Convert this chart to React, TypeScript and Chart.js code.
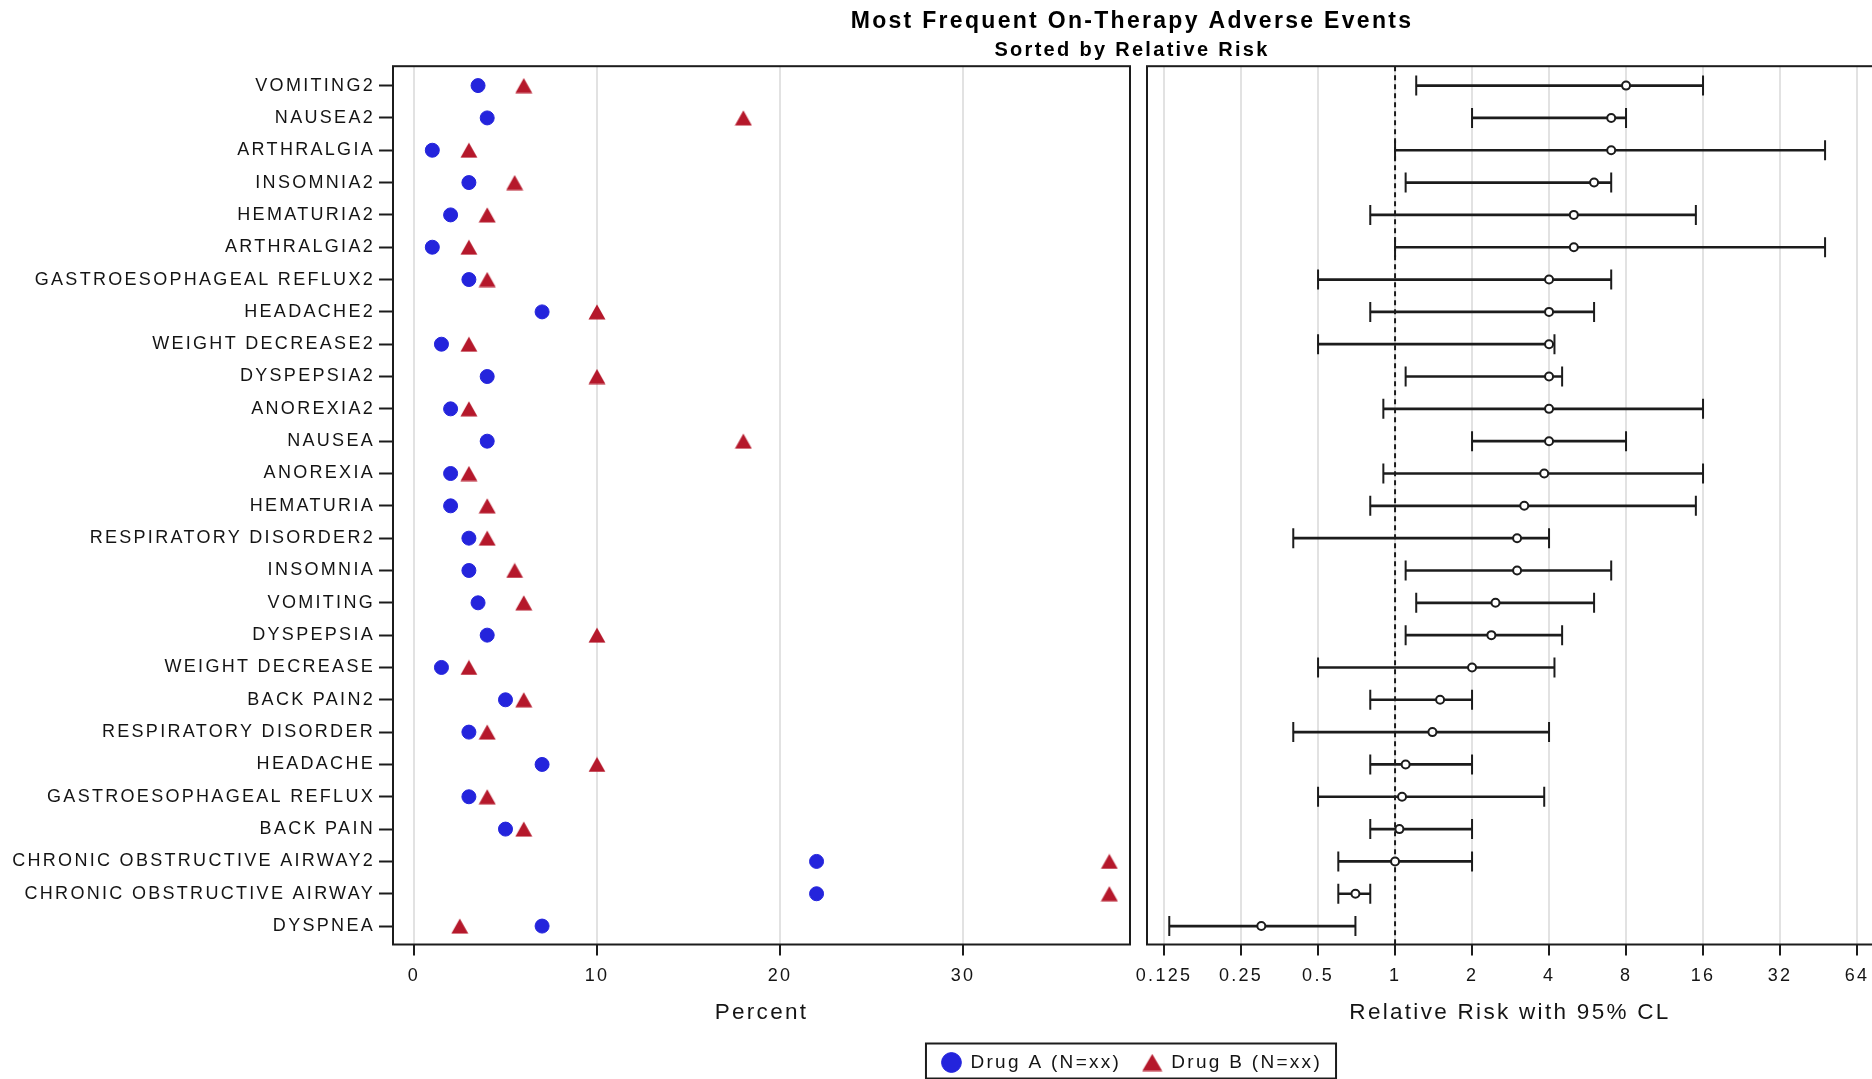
import { useEffect, useRef } from 'react';
import { Chart, registerables } from 'chart.js';

Chart.register(...registerables);

// Adverse events, top to bottom
const events = [
  'VOMITING2', 'NAUSEA2', 'ARTHRALGIA', 'INSOMNIA2', 'HEMATURIA2', 'ARTHRALGIA2',
  'GASTROESOPHAGEAL REFLUX2', 'HEADACHE2', 'WEIGHT DECREASE2', 'DYSPEPSIA2', 'ANOREXIA2',
  'NAUSEA', 'ANOREXIA', 'HEMATURIA', 'RESPIRATORY DISORDER2', 'INSOMNIA', 'VOMITING',
  'DYSPEPSIA', 'WEIGHT DECREASE', 'BACK PAIN2', 'RESPIRATORY DISORDER', 'HEADACHE',
  'GASTROESOPHAGEAL REFLUX', 'BACK PAIN', 'CHRONIC OBSTRUCTIVE AIRWAY2',
  'CHRONIC OBSTRUCTIVE AIRWAY', 'DYSPNEA',
];

// Percent of patients with each event
const drugA = [3.5, 4, 1, 3, 2, 1, 3, 7, 1.5, 4, 2, 4, 2, 2, 3, 3, 3.5, 4, 1.5, 5, 3, 7, 3, 5, 22, 22, 7];
const drugB = [6, 18, 3, 5.5, 4, 3, 4, 10, 3, 10, 3, 18, 3, 4, 4, 5.5, 6, 10, 3, 6, 4, 10, 4, 6, 38, 38, 2.5];

// Relative risk with 95% confidence limits
const relRisk = [8, 7, 7, 6, 5, 5, 4, 4, 4, 4, 4, 4, 3.83, 3.2, 3, 3, 2.47, 2.38, 2, 1.5, 1.4, 1.1, 1.065, 1.04, 1, 0.7, 0.3];
const lowerCL = [1.21, 2, 1, 1.1, 0.8, 1, 0.5, 0.8, 0.5, 1.1, 0.9, 2, 0.9, 0.8, 0.4, 1.1, 1.21, 1.1, 0.5, 0.8, 0.4, 0.8, 0.5, 0.8, 0.6, 0.6, 0.131];
const upperCL = [16, 8, 48, 7, 15, 48, 7, 6, 4.2, 4.5, 16, 8, 16, 15, 4, 7, 6, 4.5, 4.2, 2, 4, 2, 3.83, 2, 2, 0.8, 0.7];

const percentTicks = [0, 10, 20, 30];
const riskTicks = [0.125, 0.25, 0.5, 1, 2, 4, 8, 16, 32, 64];

const FONT = 'Liberation Sans, Arial, Helvetica, sans-serif';
const INK = '#1c1c1c';
const TEXT = '#141414';
const GRID = '#e2e2e2';
const BLUE = '#2424dc';
const RED = '#b5182b';

const ROW_MIN = -0.6;
const ROW_MAX = 26.57;

Chart.defaults.font.family = FONT;

// Filled triangle centred on its bounding box, used as the Drug B marker
function makeTriangle(w: number, h: number, color: string) {
  const c = document.createElement('canvas');
  c.width = w;
  c.height = h;
  const g = c.getContext('2d') as CanvasRenderingContext2D;
  g.fillStyle = color;
  g.beginPath();
  g.moveTo(w / 2, 0.5);
  g.lineTo(w - 0.5, h - 0.5);
  g.lineTo(0.5, h - 0.5);
  g.closePath();
  g.fill();
  return c;
}

// Text in this graph is set with a little tracking
const letterSpacing = {
  id: 'letterSpacing',
  beforeLayout(chart: any) {
    chart.ctx.letterSpacing = '2.3px';
  },
  beforeDraw(chart: any) {
    chart.ctx.letterSpacing = '2.3px';
  },
};

// Box around each panel's plot area
const panelFrame = {
  id: 'panelFrame',
  afterDraw(chart: any) {
    const { ctx, chartArea: a } = chart;
    ctx.save();
    ctx.strokeStyle = INK;
    ctx.lineWidth = 2;
    ctx.strokeRect(a.left, a.top, a.right - a.left, a.bottom - a.top);
    ctx.restore();
  },
};

// Border around the legend entries
const legendFrame = {
  id: 'legendFrame',
  afterDraw(chart: any) {
    const boxes = chart.legend && chart.legend.legendHitBoxes;
    if (!boxes || !boxes.length) return;
    const first = boxes[0];
    const last = boxes[boxes.length - 1];
    const cy = first.top + first.height / 2;
    const x0 = first.left - 16;
    const x1 = last.left + last.width + 14;
    const { ctx } = chart;
    ctx.save();
    ctx.strokeStyle = INK;
    ctx.lineWidth = 2;
    ctx.strokeRect(x0, cy - 19, x1 - x0, 35);
    ctx.restore();
  },
};

const tickFont = { family: FONT, size: 18 };
const axisTitleFont = { family: FONT, size: 22.5 };

const bottomAxisCommon = {
  position: 'bottom',
  bounds: 'data',
  afterFit: (s: any) => {
    s.height = 87;
  },
  ticks: { font: tickFont, color: TEXT, padding: 9.5, autoSkip: false, maxRotation: 0 },
  grid: { color: GRID, lineWidth: 2, tickColor: INK, tickWidth: 2, tickLength: 11 },
  border: { display: false },
};

export default function App() {
  const leftRef = useRef<HTMLCanvasElement>(null);
  const rightRef = useRef<HTMLCanvasElement>(null);

  useEffect(() => {
    const rows = events.map((_, i) => i);
    const triangle = makeTriangle(18, 16, RED);
    const legendTriangle = makeTriangle(21, 18, RED);

    const left = new Chart(leftRef.current as HTMLCanvasElement, {
      type: 'scatter',
      data: {
        datasets: [
          {
            label: 'Drug A (N=xx)',
            data: rows.map((i) => ({ x: drugA[i], y: i })),
            pointStyle: 'circle',
            pointRadius: 7,
            backgroundColor: BLUE,
            borderColor: BLUE,
            borderWidth: 1,
            xAxisID: 'x',
            yAxisID: 'y',
          },
          {
            label: 'Drug B (N=xx)',
            data: rows.map((i) => ({ x: drugB[i], y: i })),
            pointStyle: triangle,
            pointRadius: 10,
            backgroundColor: RED,
            borderColor: RED,
            borderWidth: 1,
            xAxisID: 'x',
            yAxisID: 'y',
          },
        ],
      },
      options: {
        responsive: false,
        animation: false,
        events: [],
        layout: { padding: 0 },
        plugins: {
          title: {
            display: true,
            text: 'Most Frequent On-Therapy Adverse Events',
            color: '#000000',
            font: { family: FONT, size: 23, weight: 'bold' },
            padding: { top: 7.5, bottom: 0 },
          },
          subtitle: {
            display: true,
            text: 'Sorted by Relative Risk',
            color: '#000000',
            font: { family: FONT, size: 20, weight: 'bold' },
            padding: { top: 3.7, bottom: 3.4 },
          },
          legend: {
            position: 'bottom',
            labels: {
              usePointStyle: true,
              boxWidth: 19,
              boxHeight: 14,
              padding: 21.5,
              color: TEXT,
              font: { family: FONT, size: 19 },
              generateLabels: (chart: any) =>
                Chart.defaults.plugins.legend.labels
                  .generateLabels(chart)
                  .map((item: any) =>
                    item.pointStyle === triangle ? { ...item, pointStyle: legendTriangle } : item
                  ),
            },
          },
          tooltip: { enabled: false },
        },
        scales: {
          x: {
            ...bottomAxisCommon,
            type: 'linear',
            min: -1.148,
            max: 39.13,
            afterBuildTicks: (s: any) => {
              s.ticks = percentTicks.map((v) => ({ value: v }));
            },
            title: {
              display: true,
              text: 'Percent',
              color: TEXT,
              font: axisTitleFont,
              padding: { top: 0, bottom: 5.5 },
            },
          },
          y: {
            type: 'linear',
            position: 'left',
            bounds: 'data',
            reverse: true,
            min: ROW_MIN,
            max: ROW_MAX,
            afterBuildTicks: (s: any) => {
              s.ticks = rows.map((i) => ({ value: i }));
            },
            afterFit: (s: any) => {
              s.width = 393;
            },
            ticks: {
              font: tickFont,
              color: TEXT,
              padding: 4,
              autoSkip: false,
              callback: (v: any) => events[Math.round(Number(v))] ?? '',
            },
            grid: {
              display: true,
              drawOnChartArea: false,
              tickColor: INK,
              tickWidth: 2,
              tickLength: 14,
            },
            border: { display: false },
          },
          // empty right-hand gutter; the risk panel sits over it
          gutter: {
            type: 'linear',
            axis: 'y',
            position: 'right',
            display: true,
            ticks: { display: false },
            grid: { display: false },
            border: { display: false },
            afterFit: (s: any) => {
              s.width = 2264 - 1130;
            },
          },
        },
      } as any,
      plugins: [letterSpacing, panelFrame, legendFrame],
    } as any);

    const right = new Chart(rightRef.current as HTMLCanvasElement, {
      type: 'scatter',
      data: {
        datasets: [
          {
            label: 'Relative Risk',
            data: rows.map((i) => ({ x: relRisk[i], y: i })),
            pointStyle: 'circle',
            pointRadius: 4,
            borderWidth: 2,
            borderColor: INK,
            backgroundColor: '#ffffff',
          },
          {
            label: '95% CL ends',
            data: [
              ...rows.map((i) => ({ x: lowerCL[i], y: i })),
              ...rows.map((i) => ({ x: upperCL[i], y: i })),
            ],
            pointStyle: 'line',
            rotation: 90,
            pointRadius: 10,
            borderWidth: 2,
            borderColor: INK,
          },
          {
            type: 'bar',
            label: '95% CL',
            data: rows.map((i) => ({ x: [lowerCL[i], upperCL[i]], y: i })),
            indexAxis: 'y',
            barThickness: 2,
            backgroundColor: INK,
            borderWidth: 0,
          },
          {
            type: 'line',
            label: 'No difference',
            data: [
              { x: 1, y: ROW_MIN },
              { x: 1, y: ROW_MAX },
            ],
            borderColor: INK,
            borderWidth: 2,
            borderDash: [5, 4],
            pointRadius: 0,
            fill: false,
          },
        ],
      },
      options: {
        responsive: false,
        animation: false,
        events: [],
        layout: { padding: { top: 66.2, bottom: 50.5, left: 47, right: 27 } },
        plugins: {
          legend: { display: false },
          tooltip: { enabled: false },
        },
        scales: {
          x: {
            ...bottomAxisCommon,
            type: 'logarithmic',
            min: 0.1072,
            max: 73.9,
            afterBuildTicks: (s: any) => {
              s.ticks = riskTicks.map((v) => ({ value: v }));
            },
            ticks: {
              ...bottomAxisCommon.ticks,
              callback: (v: any) => String(v),
            },
            title: {
              display: true,
              text: 'Relative Risk with 95% CL',
              color: TEXT,
              font: axisTitleFont,
              padding: { top: 0, bottom: 5.5 },
            },
          },
          y: {
            type: 'linear',
            reverse: true,
            bounds: 'data',
            min: ROW_MIN,
            max: ROW_MAX,
            offset: false,
            display: false,
            grid: { offset: false },
          },
        },
      } as any,
      plugins: [letterSpacing, panelFrame],
    } as any);

    return () => {
      left.destroy();
      right.destroy();
    };
  }, []);

  return (
    <div
      style={{
        position: 'absolute',
        left: 0,
        top: 0,
        width: 1872,
        height: 1079,
        overflow: 'hidden',
        background: '#ffffff',
      }}
    >
      <canvas
        ref={leftRef}
        width={2264}
        height={1082}
        style={{ position: 'absolute', left: 0, top: 0, width: 2264, height: 1082 }}
      />
      <canvas
        ref={rightRef}
        width={800}
        height={1082}
        style={{ position: 'absolute', left: 1100, top: 0, width: 800, height: 1082 }}
      />
    </div>
  );
}
